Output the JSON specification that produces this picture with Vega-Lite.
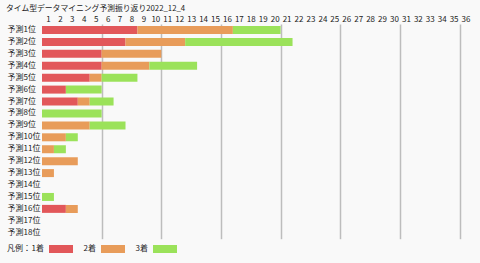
{
  "$schema": "https://vega.github.io/schema/vega-lite/v6.json",
  "width": 429.5,
  "height": 214.7,
  "autosize": {"type": "none"},
  "padding": {"left": 42, "top": 24, "right": 8.5, "bottom": 24.3},
  "background": "#f9f9f9",
  "title": {"text": "タイム型データマイニング予測振り返り2022_12_4", "anchor": "start", "font": "Noto Sans CJK JP", "fontSize": 7.8, "fontWeight": "normal", "color": "#222", "dx": -1, "offset": 2},
  "config": {"view": {"stroke": null}, "font": "Noto Sans CJK JP"},
  "data": {"values": [
    {"rank": "予測1位", "place": "1着", "count": 8},
    {"rank": "予測1位", "place": "2着", "count": 8},
    {"rank": "予測1位", "place": "3着", "count": 4},
    {"rank": "予測2位", "place": "1着", "count": 7},
    {"rank": "予測2位", "place": "2着", "count": 5},
    {"rank": "予測2位", "place": "3着", "count": 9},
    {"rank": "予測3位", "place": "1着", "count": 5},
    {"rank": "予測3位", "place": "2着", "count": 5},
    {"rank": "予測4位", "place": "1着", "count": 5},
    {"rank": "予測4位", "place": "2着", "count": 4},
    {"rank": "予測4位", "place": "3着", "count": 4},
    {"rank": "予測5位", "place": "1着", "count": 4},
    {"rank": "予測5位", "place": "2着", "count": 1},
    {"rank": "予測5位", "place": "3着", "count": 3},
    {"rank": "予測6位", "place": "1着", "count": 2},
    {"rank": "予測6位", "place": "3着", "count": 3},
    {"rank": "予測7位", "place": "1着", "count": 3},
    {"rank": "予測7位", "place": "2着", "count": 1},
    {"rank": "予測7位", "place": "3着", "count": 2},
    {"rank": "予測8位", "place": "3着", "count": 5},
    {"rank": "予測9位", "place": "2着", "count": 4},
    {"rank": "予測9位", "place": "3着", "count": 3},
    {"rank": "予測10位", "place": "2着", "count": 2},
    {"rank": "予測10位", "place": "3着", "count": 1},
    {"rank": "予測11位", "place": "2着", "count": 1},
    {"rank": "予測11位", "place": "3着", "count": 1},
    {"rank": "予測12位", "place": "2着", "count": 3},
    {"rank": "予測13位", "place": "2着", "count": 1},
    {"rank": "予測15位", "place": "3着", "count": 1},
    {"rank": "予測16位", "place": "1着", "count": 2},
    {"rank": "予測16位", "place": "2着", "count": 1}
  ]},
  "mark": {"type": "bar"},
  "encoding": {
    "y": {
      "field": "rank", "type": "nominal",
      "scale": {"domain": ["予測1位","予測2位","予測3位","予測4位","予測5位","予測6位","予測7位","予測8位","予測9位","予測10位","予測11位","予測12位","予測13位","予測14位","予測15位","予測16位","予測17位","予測18位"], "paddingInner": 0.33, "paddingOuter": 0.165},
      "axis": {"title": null, "ticks": false, "domain": false, "labelAlign": "left", "labelPadding": 35, "labelFontSize": 8, "labelColor": "#222", "labelFont": "Noto Sans CJK JP"}
    },
    "x": {
      "field": "count", "type": "quantitative", "stack": "zero",
      "scale": {"domain": [0, 36], "nice": false, "zero": true},
      "axis": {"title": null, "orient": "top", "values": [0,1,2,3,4,5,6,7,8,9,10,11,12,13,14,15,16,17,18,19,20,21,22,23,24,25,26,27,28,29,30,31,32,33,34,35,36],
        "labelExpr": "datum.value < 36 ? '' + (datum.value + 1) : ''", "labelOffset": 5.97, "labelPadding": 1, "labelFontSize": 8, "labelColor": "#222", "labelFont": "Noto Sans CJK JP", "labelOverlap": false, "labelFlush": false,
        "ticks": false, "domain": false, "grid": true, "gridColor": "#bdbdbd", "gridWidth": 1.5,
        "gridOpacity": {"condition": {"test": "datum.value % 5 == 0 && datum.value > 0 && datum.value < 36", "value": 1}, "value": 0}}
    },
    "color": {
      "field": "place", "type": "nominal",
      "scale": {"domain": ["1着", "2着", "3着"], "range": ["#e2575a", "#e89c5a", "#9be25a"]},
      "legend": {"orient": "none", "legendX": -35, "legendY": 213, "direction": "horizontal", "title": "凡例：", "titleOrient": "left", "titleAnchor": "middle", "titleBaseline": "top", "titleFontSize": 8, "titleFontWeight": "normal", "titleColor": "#222", "titleFont": "Noto Sans CJK JP", "titlePadding": 18,
        "labelFontSize": 8, "labelColor": "#222", "labelFont": "Noto Sans CJK JP", "labelAlign": "right", "labelOffset": -29,
        "symbolType": "M-1,-0.333H1V0.333H-1Z", "symbolSize": 576, "symbolStrokeWidth": 0, "symbolOpacity": 1, "columnPadding": 10}
    },
    "order": {"field": "place", "type": "nominal", "sort": "ascending"}
  }
}
